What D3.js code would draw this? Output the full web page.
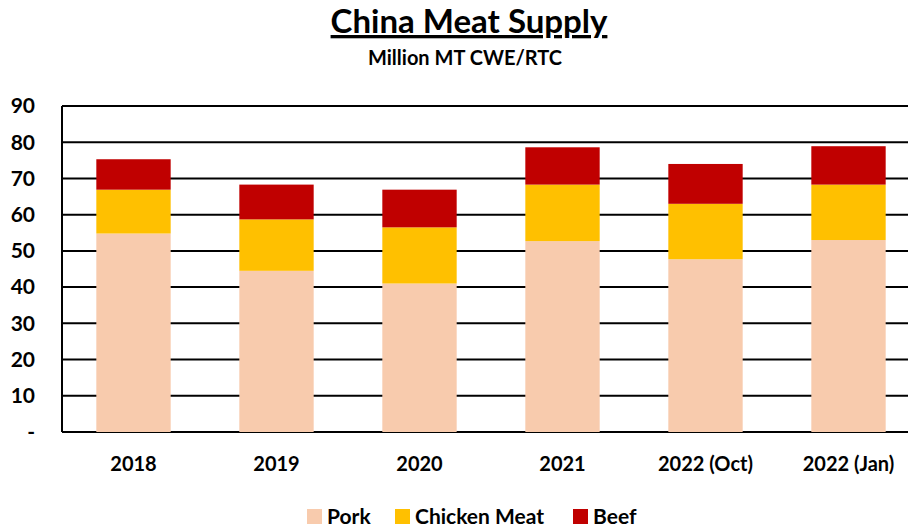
<!DOCTYPE html>
<html>
<head>
<meta charset="utf-8">
<script src="https://cdn.jsdelivr.net/npm/d3@7"></script>
<style>
  body { margin: 0; background: #fff; }
  svg { font-family: Lato, "Open Sans", sans-serif; font-weight: bold; }
</style>
</head>
<body>
<svg id="chart" width="908" height="532"></svg>
<script>
var categories = ["2018", "2019", "2020", "2021", "2022 (Oct)", "2022 (Jan)"];
var pork = [54.8, 44.5, 41.0, 52.7, 47.7, 53.0];
var chicken = [12.1, 14.2, 15.5, 15.6, 15.3, 15.3];
var beef = [8.4, 9.6, 10.4, 10.3, 11.0, 10.6];
var seriesNames = ["Pork", "Chicken Meat", "Beef"];
var seriesColors = ["#F8CBAD", "#FFC000", "#C00000"];
var yTicks = [0, 10, 20, 30, 40, 50, 60, 70, 80, 90];

var svg = d3.select("#chart");
var padding = { top: 106, left: 62, right: -12, bottom: 100 };
var width = 908, height = 532;

// rows for the stack
var rows = categories.map((c, i) => ({ cat: c, Pork: pork[i], "Chicken Meat": chicken[i], Beef: beef[i] }));
var stacked = d3.stack().keys(seriesNames)(rows);

var xScale = d3.scaleBand()
  .domain(categories)
  .range([padding.left, width - padding.right])
  .paddingInner(0.48)
  .paddingOuter(0.24);

var yScale = d3.scaleLinear()
  .domain([0, 90])
  .range([height - padding.bottom, padding.top]);

// gridlines
svg.append("g")
  .selectAll("line")
  .data(yTicks)
  .enter()
  .append("line")
  .attr("x1", padding.left)
  .attr("x2", width - padding.right)
  .attr("y1", d => yScale(d))
  .attr("y2", d => yScale(d))
  .attr("stroke", "#000")
  .attr("stroke-width", 2);

// bars
svg.append("g")
  .selectAll("g")
  .data(stacked)
  .enter()
  .append("g")
  .attr("fill", (d, i) => seriesColors[i])
  .selectAll("rect")
  .data(d => d)
  .enter()
  .append("rect")
  .attr("x", d => xScale(d.data.cat))
  .attr("width", xScale.bandwidth())
  .attr("y", d => yScale(d[1]))
  .attr("height", d => yScale(d[0]) - yScale(d[1]));

// left axis line
svg.append("line")
  .attr("x1", padding.left).attr("x2", padding.left)
  .attr("y1", yScale(90)).attr("y2", yScale(0))
  .attr("stroke", "#000").attr("stroke-width", 2);

// y tick labels
svg.append("g")
  .selectAll("text")
  .data(yTicks)
  .enter()
  .append("text")
  .attr("x", 35)
  .attr("y", d => yScale(d))
  .attr("dy", "0.35em")
  .attr("text-anchor", "end")
  .style("font-size", "21px")
  .text(d => d === 0 ? "-" : d);

// x labels
svg.append("g")
  .selectAll("text")
  .data(categories)
  .enter()
  .append("text")
  .attr("x", d => xScale(d) + xScale.bandwidth() / 2)
  .attr("y", 471)
  .attr("text-anchor", "middle")
  .style("font-size", "20px")
  .text(d => d);

// title
svg.append("text")
  .attr("x", 469).attr("y", 33)
  .attr("text-anchor", "middle")
  .style("font-size", "33px")
  .style("text-decoration", "underline")
  .text("China Meat Supply");

svg.append("text")
  .attr("x", 465).attr("y", 65)
  .attr("text-anchor", "middle")
  .style("font-size", "20px")
  .text("Million MT CWE/RTC");

// legend
var legendX = [307, 395, 573];
var legend = svg.append("g")
  .selectAll("g")
  .data(seriesNames)
  .enter()
  .append("g")
  .attr("transform", (d, i) => "translate(" + legendX[i] + ",517)");

legend.append("rect")
  .attr("x", 0).attr("y", -8)
  .attr("width", 15).attr("height", 15)
  .attr("fill", (d, i) => seriesColors[i]);

legend.append("text")
  .attr("x", 20).attr("y", 0)
  .attr("dy", "0.35em")
  .style("font-size", "21px")
  .text(d => d);
</script>
</body>
</html>
